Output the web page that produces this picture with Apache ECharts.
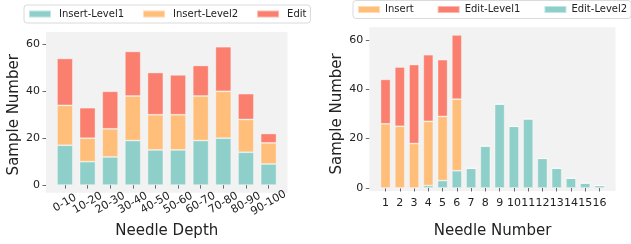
<!DOCTYPE html>
<html>
<head>
<meta charset="utf-8">
<script src="https://cdn.jsdelivr.net/npm/echarts@6/dist/echarts.min.js"></script>
<style>
  html, body { margin: 0; padding: 0; background: #fff; }
  #chart { width: 631px; height: 244px; }
</style>
</head>
<body>
<div id="chart"></div>
<script>
// left panel: needle depth
const depthCats = ['0-10', '10-20', '20-30', '30-40', '40-50', '50-60', '60-70', '70-80', '80-90', '90-100'];
const insertLevel1 = [17, 10, 12, 19, 15, 15, 19, 20, 14, 9];
const insertLevel2 = [17, 10, 12, 19, 15, 15, 19, 20, 14, 9];
const editDepth = [20, 13, 16, 19, 18, 17, 13, 19, 11, 4];

// right panel: needle number
const needleCats = ['1', '2', '3', '4', '5', '6', '7', '8', '9', '10', '11', '12', '13', '14', '15', '16'];
const editLevel2 = [0, 0, 0, 1, 3, 7, 8, 17, 34, 25, 28, 12, 8, 4, 2, 1];
const insertNum = [26, 25, 18, 26, 26, 29, 0, 0, 0, 0, 0, 0, 0, 0, 0, 0];
const editLevel1 = [18, 24, 32, 27, 23, 26, 0, 0, 0, 0, 0, 0, 0, 0, 0, 0];

const TEAL = '#8ECFC9', ORANGE = '#FFBE7A', RED = '#FA7F6F';
const FONT = 'DejaVu Sans';

const tickStyle = { color: '#444', width: 0.8 };

function xAxisFor(grid, cats, name, gap, label) {
  return {
    type: 'category', gridIndex: grid, data: cats, boundaryGap: true,
    name: name, nameLocation: 'middle', nameGap: gap,
    nameTextStyle: { fontFamily: FONT, fontSize: 15, color: '#222' },
    axisLine: { show: false },
    splitLine: { show: false },
    axisTick: { show: true, alignWithLabel: true, length: 3.5, lineStyle: tickStyle },
    axisLabel: Object.assign({
      interval: 0, fontFamily: FONT, fontSize: 11, color: '#222'
    }, label)
  };
}

function yAxisFor(grid, gap, offset) {
  return {
    type: 'value', gridIndex: grid, min: 0, max: 60, interval: 20, offset: offset,
    name: 'Sample Number', nameLocation: 'middle', nameGap: gap,
    nameTextStyle: { fontFamily: FONT, fontSize: 15, color: '#222' },
    axisLine: { show: false },
    splitLine: { show: false },
    axisTick: { show: true, length: 3.5, lineStyle: tickStyle },
    axisLabel: { margin: 6, fontFamily: FONT, fontSize: 11, color: '#222' }
  };
}

function hiddenAxis(grid) {
  return { type: 'value', gridIndex: grid, show: false, min: 0, max: 1 };
}

function barSeries(name, data, color, axis) {
  return {
    name: name, type: 'bar', stack: 'total' + axis,
    xAxisIndex: axis, yAxisIndex: axis,
    data: data, barWidth: '70%', clip: false,
    itemStyle: { color: color, borderColor: 'rgba(255,255,255,0.45)', borderWidth: 0.8 },
    emphasis: { disabled: true }
  };
}

const legendBase = {
  top: 5, orient: 'horizontal',
  padding: [4, 4, 4, 4],
  itemWidth: 22, itemHeight: 7,
  borderColor: '#d0d0d0', borderWidth: 0.8, borderRadius: 3,
  backgroundColor: '#fff',
  icon: 'rect',
  textStyle: { fontFamily: FONT, fontSize: 10, color: '#222' }
};

var myChart = echarts.init(document.getElementById('chart'), null, { renderer: 'canvas' });
var option = {
  animation: false,
  backgroundColor: '#fff',
  legend: [
    Object.assign({}, legendBase, {
      left: 24, itemGap: 18,
      data: ['Insert-Level1', 'Insert-Level2', 'Edit'],
      textStyle: { fontFamily: FONT, fontSize: 10, color: '#222', padding: [0, 0, 0, 3] }
    }),
    Object.assign({}, legendBase, {
      left: 353, top: 0.5, itemGap: 23, width: 300,
      data: ['Insert', 'Edit-Level1', 'Edit-Level2']
    })
  ],
  grid: [
    // bar areas (y max 60 sits at the 60 tick)
    { left: 53.6, right: 351.1, top: 44.4, bottom: 51.3 },
    { left: 378.4, right: 24.4, top: 39.9, bottom: 53 },
    // grey plot backgrounds
    { left: 46, right: 343.5, top: 32, bottom: 51.3, show: true, backgroundColor: '#f2f2f2', borderWidth: 0 },
    { left: 369.3, right: 15.5, top: 27.3, bottom: 53, show: true, backgroundColor: '#f2f2f2', borderWidth: 0 }
  ],
  xAxis: [
    xAxisFor(0, depthCats, 'Needle Depth', 38,
      { rotate: 30, align: 'center', verticalAlign: 'middle', margin: 18 }),
    xAxisFor(1, needleCats, 'Needle Number', 36, { margin: 10 }),
    hiddenAxis(2), hiddenAxis(3)
  ],
  yAxis: [yAxisFor(0, 24, 7.6), yAxisFor(1, 25, 9.1), hiddenAxis(2), hiddenAxis(3)],
  series: [
    barSeries('Insert-Level1', insertLevel1, TEAL, 0),
    barSeries('Insert-Level2', insertLevel2, ORANGE, 0),
    barSeries('Edit', editDepth, RED, 0),
    barSeries('Edit-Level2', editLevel2, TEAL, 1),
    barSeries('Insert', insertNum, ORANGE, 1),
    barSeries('Edit-Level1', editLevel1, RED, 1)
  ]
};
option && myChart.setOption(option);
</script>
</body>
</html>
